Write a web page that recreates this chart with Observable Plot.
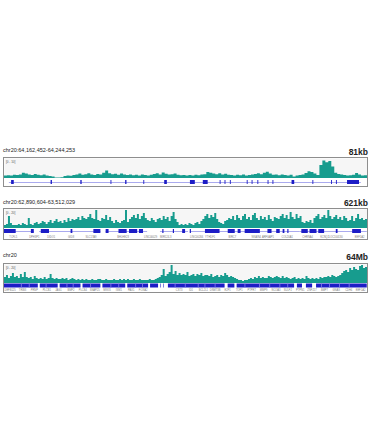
<!DOCTYPE html>
<html><head><meta charset="utf-8">
<script src="https://cdn.jsdelivr.net/npm/d3@7"></script>
<script src="https://cdn.jsdelivr.net/npm/@observablehq/plot@0.6"></script>
<style>
html,body{margin:0;padding:0;background:#fff;}
#root{position:relative;width:370px;height:444px;font-family:"Liberation Sans",Arial,sans-serif;overflow:hidden;}
.title{position:absolute;left:3px;font-size:5.5px;line-height:5.5px;color:#222;white-space:nowrap;}
.range{position:absolute;right:2px;font-size:8.5px;line-height:8.5px;font-weight:bold;color:#222;white-space:nowrap;}
.box{position:absolute;left:3px;width:365px;border:1px solid #8e8e8e;box-sizing:border-box;background:#fff;}
.box svg{display:block;}
</style>
</head><body><div id="root"></div>
<script>
// ---------- Track 1: chr20:64,162,452-64,244,253 (81kb) ----------
const t1Title = "chr20:64,162,452-64,244,253";
const t1Range = "81kb";
const t1Start = 64162452, t1End = 64244253;
const t1Scale = "[0 - 10]";
const t1Signal = [1.2,1.4,1.3,1.6,1.5,1.8,2.6,2.2,1.8,1.5,2.0,1.6,1.4,1.7,1.2,1.0,0.8,0.3,0.2,0.4,
  1.0,1.3,1.1,1.5,1.8,2.2,1.6,1.9,2.4,1.7,1.5,2.0,1.8,2.6,3.8,2.4,1.9,2.1,1.6,2.3,1.8,1.5,1.7,
  1.4,1.6,1.3,1.8,1.5,1.2,1.6,2.0,2.4,1.8,2.7,2.1,1.7,1.9,2.3,1.6,1.4,1.5,1.3,1.5,1.2,1.6,1.4,1.7,1.9,
  3.0,2.6,2.2,1.9,2.4,1.8,2.1,1.6,1.5,1.3,1.6,1.4,1.7,1.3,1.5,1.8,2.0,2.4,1.9,2.6,3.1,2.2,
  1.6,1.8,1.4,1.7,1.5,1.3,1.6,0.8,1.2,1.5,1.8,2.5,3.4,3.0,2.2,1.5,6.5,8.8,7.9,8.5,5.8,
  2.6,2.0,1.7,1.5,1.2,1.4,1.6,2.5,1.8,1.3,1.4];
// gene spans / exons in kb from track start
const t1GeneStart = [1.1];
const t1GeneEnd = [80.4];
const t1ExonStart = [1.6,10.5,17.2,24.0,27.3,31.4,36.1,41.9,44.8,48.6,49.7,50.9,54.7,55.8,57.1,59.4,60.5,64.8,69.5,73.7,74.8,77.3];
const t1ExonEnd   = [2.2,10.8,17.5,24.2,27.6,31.6,36.7,43.0,45.9,48.8,49.9,51.1,54.9,56.0,57.3,59.6,60.7,65.4,69.7,73.9,75.0,80.0];

// ---------- Track 2: chr20:62,890,604-63,512,029 (621kb) ----------
const t2Title = "chr20:62,890,604-63,512,029";
const t2Range = "621kb";
const t2Start = 62890604, t2End = 63512029;
const t2Scale = "[0 - 20]";
const t2Signal = [3,4,12,5,3,3, 3,4,3,5,4,3, 10,4,3,5,6,4, 5,7,6,4,6,8, 5,7,9,6,7,5,
  8,6,10,7,9,8, 9,11,8,12,10,9, 11,14,10,9,18,8, 7,10,9,13,8,11, 7,5,8,6,5,7,
  8,18,6,9,11,13, 10,14,9,12,15,10, 8,7,10,8,6,9, 10,8,12,9,11,7, 12,16,9,6,3,4,
  3,4,3,5,4,3, 5,6,4,7,9,12, 14,10,13,11,15,9, 6,5,4,7,8,10, 9,12,8,13,10,8,
  12,14,9,11,8,13, 15,10,8,12,9,11, 8,13,9,7,11,10, 9,12,14,10,13,9, 16,11,9,14,10,12,
  6,5,7,6,8,5, 10,12,14,9,11,13, 10,18,12,9,11,13, 9,11,8,12,10,7, 8,12,7,10,14,9, 10,8,9];
const t2GeneStart = [0,60,174,267,318,506];
const t2GeneEnd   = [51,165,245,315,506,621];
const t2ExonStart = [0,46,63,114,153,174,196,214,231,271,289,305,318,344,383,400,412,451,466,477,485,509,523,538,568,596];
const t2ExonEnd   = [20,51,77,117,165,179,210,228,238,273,291,310,320,369,395,405,438,458,472,480,487,520,535,548,571,611];
const t2LabelPos = [15,51,80,114,148,203,250,276,329,352,390,431,451,484,519,548,567,608];
const t2LabelName = ["TCFL5","DPH3P1","DIDO1","GID8","SLC17A9","BHLHE23","LINC00029","MIR124-3","LINC00266","YTHDF1","BIRC7","NKAIN4","ARFGAP1","COL20A1","CHRNA4","KCNQ2","LOC100130","EEF1A2"];

// ---------- Track 3: chr20 (64Mb) ----------
const t3Title = "chr20";
const t3Range = "64Mb";
const t3Start = 0, t3End = 64444167;
const t3Scale = "[0 - 20]";
const t3Signal = [6,8,5,7,10,6, 7,5,9,6,11,6, 5,6,4,7,5,4, 5,4,6,4,5,9, 5,4,5,4,4,5,
  4,5,3,4,5,4, 3,4,3,4,3,4, 3,3,4,3,3,4, 4,3,3,4,3,3, 3,4,3,3,4,3,
  4,3,4,3,3,4, 3,3,4,3,3,3, 3,4,3,3,4,5, 6,8,14,7,9,11, 18,9,12,8,10,8,
  9,8,11,7,8,9, 7,9,8,10,7,8, 8,7,9,6,7,8, 6,8,7,10,8,6, 7,6,5,4,3,3,
  2,3,3,4,5,4, 6,5,7,5,6,5, 5,7,6,5,6,7, 6,5,7,5,6,5, 4,5,6,4,5,4,
  5,4,7,5,4,5, 4,5,4,6,5,6, 6,7,6,8,7,6, 7,8,10,12,13,11, 15,13,16,14,13,17, 18,15,16];
// dense gene band segments, in Mb
const t3BandStart = [0,6.35,9.88,13.94,17.47,21.88,25.93,27.7,28.23,29.1,39.7,41.3,52.0,53.6,55.4];
const t3BandEnd   = [6.0,9.53,13.58,17.11,21.52,25.58,27.35,27.8,28.33,39.16,40.9,51.5,52.9,54.7,64.4];
const t3LightPos = [3.0,4.4,7.4,11.1,12.2,15.3,18.9,20.3,23.3,24.5,30.3,32.1,34.4,35.6,37.4,42.7,45.3,47.1,48.9,50.3,56.3,57.7,59.5,61.2];
const t3LabelPos = [1.0,3.2,5.3,7.5,9.6,11.8,13.9,16.0,18.2,20.3,22.5,24.6,31.0,33.1,35.3,37.4,39.6,41.7,43.9,46.0,48.2,50.3,52.5,54.6,56.8,58.9,61.1,63.2];
const t3LabelName = ["DEFB125","TRIB3","PRNP","PLCB1","JAG1","BMP2","PLCB4","SNAP25","MKKS","ISM1","PAX1","FOXA2","CST3","ID1","BCL2L1","DNMT3B","E2F1","TOP1","PTPRT","MMP9","NCOA3","SULF2","PTPN1","ZNF217","BMP7","GNAS","CDH4","EEF1A2"];

// ---------- drawing ----------
const TEAL = "#179c8e", EXON = "#1d1dc6", INTRON = "#8585e6", LIGHT = "#7d7de4";
const W = 363;
const root = document.getElementById("root");

function sigPlot(start, end, vals, ymax, h, scaleText) {
  const step = (end - start) / vals.length;
  const pts = vals.map((v, i) => ({x: start + i * step, v}));
  pts.push({x: end, v: vals[vals.length - 1]});
  return Plot.plot({
    width: W, height: h, margin: 0,
    style: {fontFamily: "Liberation Sans, Arial, sans-serif", background: "transparent"},
    x: {domain: [start, end], axis: null},
    y: {domain: [0, ymax], axis: null},
    marks: [
      Plot.frame({fill: "#f6f6f6", stroke: null}),
      Plot.areaY(pts, {x: "x", y: "v", curve: "step-after", fill: TEAL}),
      Plot.text([scaleText], {frameAnchor: "top-left", dx: 1.5, dy: 2, fontSize: 3, fill: "#555"})
    ]
  });
}

function genePlot(start, end, h, spans, exons, lights, inset) {
  const marks = [];
  if (spans) marks.push(Plot.ruleY(spans, {x1: "s", x2: "e", y: null, stroke: INTRON, strokeWidth: 0.7}));
  marks.push(Plot.rect(exons, {x1: "s", x2: "e", fill: EXON, insetTop: inset, insetBottom: inset}));
  if (lights) marks.push(Plot.rect(lights, {x1: "s", x2: "e", fill: LIGHT, insetTop: inset, insetBottom: inset}));
  return Plot.plot({
    width: W, height: h, margin: 0,
    style: {background: "transparent"},
    x: {domain: [start, end], axis: null},
    marks
  });
}

function labelPlot(start, end, h, labels) {
  return Plot.plot({
    width: W, height: h, margin: 0,
    style: {fontFamily: "Liberation Sans, Arial, sans-serif", background: "transparent"},
    x: {domain: [start, end], axis: null},
    marks: [Plot.text(labels, {x: "p", text: "n", frameAnchor: "middle", fontSize: 2.6, fill: "#777"})]
  });
}

function addTrack(L, title, range, parts) {
  const t = document.createElement("div");
  t.className = "title"; t.textContent = title; t.style.top = L.titleTop + "px";
  root.appendChild(t);
  const r = document.createElement("div");
  r.className = "range"; r.textContent = range; r.style.top = L.rangeTop + "px";
  root.appendChild(r);
  const b = document.createElement("div");
  b.className = "box"; b.style.top = L.boxTop + "px";
  parts.forEach(p => b.appendChild(p));
  root.appendChild(b);
}

const zip = (a, b) => a.map((s, i) => ({s, e: b[i]}));

// Track 1
{
  const k = 1000;
  const spans = zip(t1GeneStart.map(v => t1Start + v * k), t1GeneEnd.map(v => t1Start + v * k));
  const exons = zip(t1ExonStart.map(v => t1Start + v * k), t1ExonEnd.map(v => t1Start + v * k));
  addTrack({titleTop: 148, rangeTop: 148, boxTop: 157}, t1Title, t1Range, [
    sigPlot(t1Start, t1End, t1Signal, 10, 20, t1Scale),
    genePlot(t1Start, t1End, 8, spans, exons, null, 2)
  ]);
}
// Track 2
{
  const k = 1000;
  const spans = zip(t2GeneStart.map(v => t2Start + v * k), t2GeneEnd.map(v => t2Start + v * k));
  const exons = zip(t2ExonStart.map(v => t2Start + v * k), t2ExonEnd.map(v => t2Start + v * k));
  const labels = t2LabelPos.map((p, i) => ({p: t2Start + p * k, n: t2LabelName[i]}));
  addTrack({titleTop: 200, rangeTop: 199, boxTop: 208}, t2Title, t2Range, [
    sigPlot(t2Start, t2End, t2Signal, 19, 19, t2Scale),
    genePlot(t2Start, t2End, 6, spans, exons, null, 1),
    labelPlot(t2Start, t2End, 5, labels)
  ]);
}
// Track 3
{
  const k = 1e6;
  const band = zip(t3BandStart.map(v => v * k), t3BandEnd.map(v => v * k));
  const lights = t3LightPos.map(v => ({s: v * k, e: (v + 0.15) * k}));
  const labels = t3LabelPos.map((p, i) => ({p: p * k, n: t3LabelName[i]}));
  addTrack({titleTop: 253, rangeTop: 253, boxTop: 263}, t3Title, t3Range, [
    sigPlot(t3Start, t3End, t3Signal, 19, 19, t3Scale),
    genePlot(t3Start, t3End, 5, null, band, lights, 0.5),
    labelPlot(t3Start, t3End, 4, labels)
  ]);
}
</script>
</body></html>
